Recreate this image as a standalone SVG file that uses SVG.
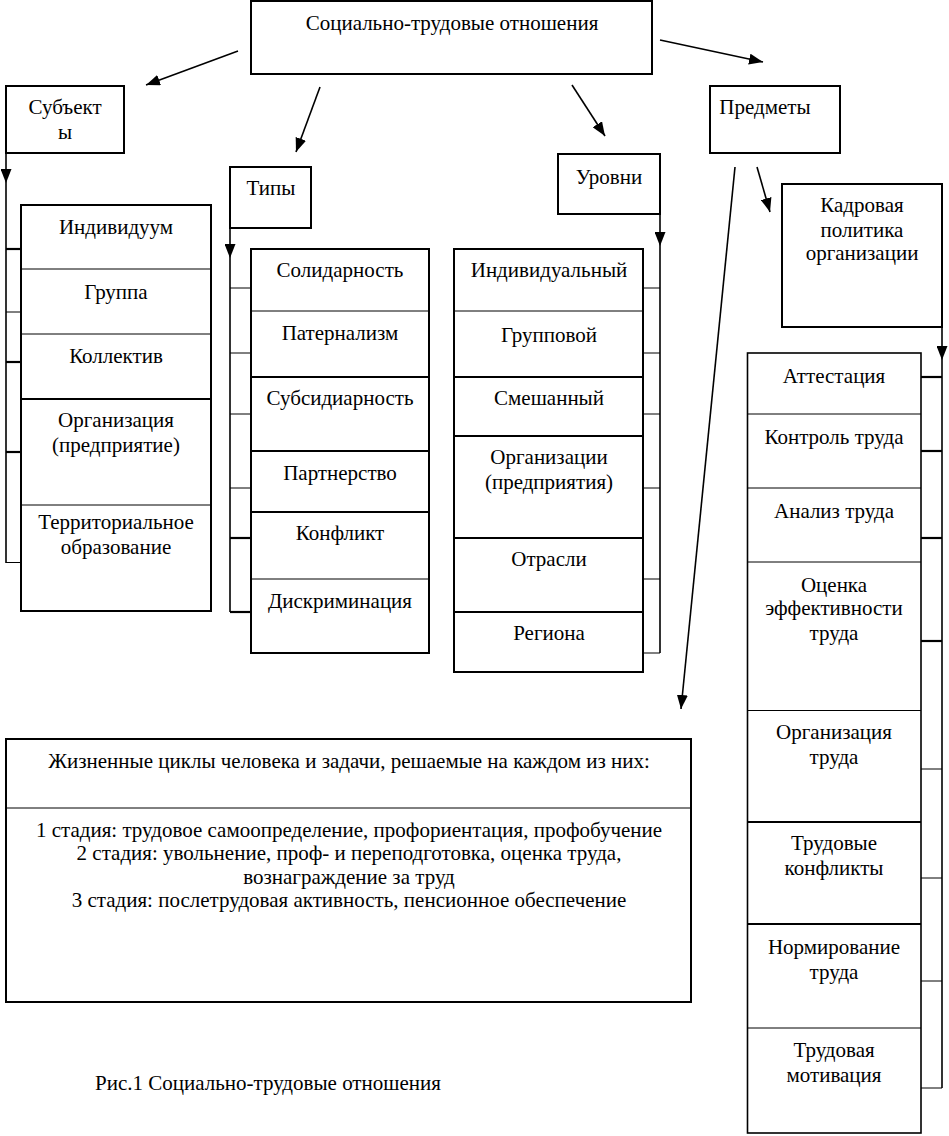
<svg xmlns="http://www.w3.org/2000/svg" width="949" height="1136" viewBox="0 0 949 1136" font-family="'Liberation Serif', 'Times New Roman', serif" font-size="21">
<style>
  text { fill: #000; text-anchor: middle; }
  .box { fill: #fff; stroke: #000; stroke-width: 2; }
  .thin { stroke: #000; stroke-width: 1; fill: none; }
  .thick { stroke: #000; stroke-width: 2.2; fill: none; }
  .conn { stroke: #000; stroke-width: 1.6; fill: none; }
  .left { text-anchor: start; }
</style>
<defs>
  <marker id="ah" markerUnits="userSpaceOnUse" markerWidth="14" markerHeight="11" viewBox="0 0 14 11" refX="14" refY="5.5" orient="auto">
    <path d="M0,0 L14,5.5 L0,11 z" fill="#000"/>
  </marker>
</defs>
<rect width="949" height="1136" fill="#fff"/>

<g id="connectors">
  <line class="conn" x1="238" y1="51" x2="146" y2="85" marker-end="url(#ah)"/>
  <line class="conn" x1="320" y1="87" x2="296" y2="152" marker-end="url(#ah)"/>
  <line class="conn" x1="572" y1="85" x2="605" y2="136" marker-end="url(#ah)"/>
  <line class="conn" x1="660" y1="40" x2="763" y2="62" marker-end="url(#ah)"/>
  <line class="conn" x1="735" y1="167" x2="681" y2="709" marker-end="url(#ah)"/>
  <line class="conn" x1="757" y1="167" x2="770" y2="212" marker-end="url(#ah)"/>
  <!-- Субъекты bracket -->
  <line class="conn" x1="6" y1="153" x2="6" y2="183" marker-end="url(#ah)"/>
  <line class="conn" x1="6" y1="183" x2="6" y2="563"/>
  <line class="thick" x1="6" y1="249" x2="21" y2="249"/>
  <line class="thin" x1="6" y1="312" x2="21" y2="312"/>
  <line class="thick" x1="6" y1="362" x2="21" y2="362"/>
  <line class="thick" x1="6" y1="452" x2="21" y2="452"/>
  <line class="thin" x1="6" y1="562.5" x2="21" y2="562.5"/>
  <!-- Типы bracket -->
  <line class="conn" x1="230" y1="228" x2="230" y2="258" marker-end="url(#ah)"/>
  <line class="conn" x1="230" y1="258" x2="230" y2="612"/>
  <line class="thin" x1="230" y1="288" x2="251" y2="288"/>
  <line class="thin" x1="230" y1="353" x2="251" y2="353"/>
  <line class="thin" x1="230" y1="414" x2="251" y2="414"/>
  <line class="thin" x1="230" y1="488" x2="251" y2="488"/>
  <line class="thick" x1="230" y1="538" x2="251" y2="538"/>
  <line class="thick" x1="230" y1="612" x2="251" y2="612"/>
  <!-- Уровни bracket -->
  <line class="conn" x1="660" y1="214" x2="660" y2="246" marker-end="url(#ah)"/>
  <line class="conn" x1="660" y1="246" x2="660" y2="653"/>
  <line class="thin" x1="643" y1="288" x2="660" y2="288"/>
  <line class="thin" x1="643" y1="353" x2="660" y2="353"/>
  <line class="thin" x1="643" y1="414" x2="660" y2="414"/>
  <line class="thin" x1="643" y1="488" x2="660" y2="488"/>
  <line class="thin" x1="643" y1="579" x2="660" y2="579"/>
  <line class="thin" x1="643" y1="653" x2="660" y2="653"/>
  <!-- Предметы bracket -->
  <line class="conn" x1="942" y1="327" x2="942" y2="360" marker-end="url(#ah)"/>
  <line class="conn" x1="942" y1="360" x2="942" y2="1088"/>
  <line class="thick" x1="921" y1="377" x2="942" y2="377"/>
  <line class="thick" x1="921" y1="451" x2="942" y2="451"/>
  <line class="thick" x1="921" y1="538" x2="942" y2="538"/>
  <line class="thick" x1="921" y1="641" x2="942" y2="641"/>
  <line class="thin" x1="921" y1="769" x2="942" y2="769"/>
  <line class="thin" x1="921" y1="878" x2="942" y2="878"/>
  <line class="thin" x1="921" y1="981" x2="942" y2="981"/>
  <line class="thin" x1="921" y1="1088" x2="942" y2="1088"/>
</g>

<g id="root">
  <rect class="box" x="251" y="1" width="401" height="73"/>
  <text x="452" y="30">Социально-трудовые отношения</text>
</g>

<g id="subjects">
  <rect class="box" x="6" y="86" width="118" height="67"/>
  <text x="65" y="114">Субъект</text>
  <text x="65" y="139">ы</text>
</g>

<g id="subjects-list">
  <rect class="box" x="21" y="205" width="190" height="406"/>
  <line class="thin" x1="21" y1="269" x2="211" y2="269"/>
  <line class="thin" x1="21" y1="334" x2="211" y2="334"/>
  <line class="thick" x1="21" y1="399" x2="211" y2="399"/>
  <line class="thin" x1="21" y1="505" x2="211" y2="505"/>
  <text x="116" y="234">Индивидуум</text>
  <text x="116" y="299">Группа</text>
  <text x="116" y="363">Коллектив</text>
  <text x="116" y="427">Организация</text>
  <text x="116" y="452">(предприятие)</text>
  <text x="116" y="529">Территориальное</text>
  <text x="116" y="554">образование</text>
</g>

<g id="types">
  <rect class="box" x="230" y="167" width="81" height="61"/>
  <text x="271" y="195">Типы</text>
</g>

<g id="types-list">
  <rect class="box" x="251" y="249" width="178" height="404"/>
  <line class="thin" x1="251" y1="311" x2="429" y2="311"/>
  <line class="thick" x1="251" y1="377" x2="429" y2="377"/>
  <line class="thick" x1="251" y1="451" x2="429" y2="451"/>
  <line class="thick" x1="251" y1="512" x2="429" y2="512"/>
  <line class="thin" x1="251" y1="579" x2="429" y2="579"/>
  <text x="340" y="277">Солидарность</text>
  <text x="340" y="340">Патернализм</text>
  <text x="340" y="405">Субсидиарность</text>
  <text x="340" y="480">Партнерство</text>
  <text x="340" y="540">Конфликт</text>
  <text x="340" y="608">Дискриминация</text>
</g>

<g id="levels">
  <rect class="box" x="558" y="154" width="102" height="60"/>
  <text x="609" y="184">Уровни</text>
</g>

<g id="levels-list">
  <rect class="box" x="454" y="249" width="189" height="423"/>
  <line class="thin" x1="454" y1="311" x2="643" y2="311"/>
  <line class="thick" x1="454" y1="377" x2="643" y2="377"/>
  <line class="thick" x1="454" y1="436" x2="643" y2="436"/>
  <line class="thick" x1="454" y1="538" x2="643" y2="538"/>
  <line class="thick" x1="454" y1="612" x2="643" y2="612"/>
  <text x="549" y="277">Индивидуальный</text>
  <text x="549" y="342">Групповой</text>
  <text x="549" y="405">Смешанный</text>
  <text x="549" y="464">Организации</text>
  <text x="549" y="489">(предприятия)</text>
  <text x="549" y="566">Отрасли</text>
  <text x="549" y="640">Региона</text>
</g>

<g id="subjects-of-relations">
  <rect class="box" x="710" y="86" width="130" height="67"/>
  <text x="765" y="114">Предметы</text>
</g>

<g id="personnel-policy">
  <rect class="box" x="782" y="184" width="160" height="143"/>
  <text x="862" y="212">Кадровая</text>
  <text x="862" y="237">политика</text>
  <text x="862" y="260">организации</text>
</g>

<g id="policy-list">
  <rect class="box" x="747.5" y="353" width="173.5" height="780" style="stroke-width:1.6"/>
  <line class="thin" x1="747" y1="414" x2="921" y2="414"/>
  <line class="thin" x1="747" y1="488" x2="921" y2="488"/>
  <line class="thin" x1="747" y1="562" x2="921" y2="562"/>
  <line class="thin" x1="747" y1="710.5" x2="921" y2="710.5"/>
  <line class="thick" x1="747" y1="822" x2="921" y2="822"/>
  <line class="thick" x1="747" y1="924" x2="921" y2="924"/>
  <line class="thin" x1="747" y1="1028" x2="921" y2="1028"/>
  <text x="834" y="383">Аттестация</text>
  <text x="834" y="444">Контроль труда</text>
  <text x="834" y="518">Анализ труда</text>
  <text x="834" y="592">Оценка</text>
  <text x="834" y="615">эффективности</text>
  <text x="834" y="640">труда</text>
  <text x="834" y="739">Организация</text>
  <text x="834" y="764">труда</text>
  <text x="834" y="850">Трудовые</text>
  <text x="834" y="875">конфликты</text>
  <text x="834" y="954">Нормирование</text>
  <text x="834" y="979">труда</text>
  <text x="834" y="1057">Трудовая</text>
  <text x="834" y="1082">мотивация</text>
</g>

<g id="life-cycles">
  <rect class="box" x="6" y="739" width="685" height="263"/>
  <line class="thin" x1="6" y1="808" x2="691" y2="808"/>
  <text x="349" y="768">Жизненные циклы человека и задачи, решаемые на каждом из них:</text>
  <text x="349" y="837">1 стадия: трудовое самоопределение, профориентация, профобучение</text>
  <text x="349" y="860">2 стадия: увольнение, проф- и переподготовка, оценка труда,</text>
  <text x="349" y="884">вознаграждение за труд</text>
  <text x="349" y="907">3 стадия: послетрудовая активность, пенсионное обеспечение</text>
</g>

<text class="left" x="95" y="1090">Рис.1 Социально-трудовые отношения</text>
</svg>
